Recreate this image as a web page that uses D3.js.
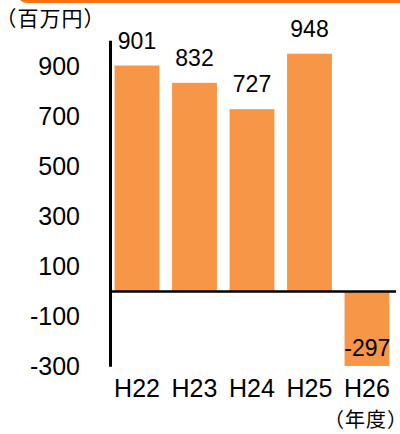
<!DOCTYPE html>
<html>
<head>
<meta charset="utf-8">
<script src="https://cdn.jsdelivr.net/npm/d3@7"></script>
<style>
  body { margin: 0; background: #fff; }
  svg { display: block; }
  text { font-family: "Liberation Sans", Arial, sans-serif; fill: #000; }
  .jp { font-family: "Noto Sans CJK JP", sans-serif; font-feature-settings: "halt"; }
</style>
</head>
<body>
<svg id="chart" width="400" height="434"></svg>
<script>
var years = ["H22", "H23", "H24", "H25", "H26"]
var values = [901, 832, 727, 948, -297]
var yTicks = [900, 700, 500, 300, 100, -100, -300]

var svg = d3.select("#chart")

// orange frame edge at the top
svg.append("path")
    .attr("d", "M20,-20 L20,-6 Q20,1.5 28,1.5 L402,1.5")
    .attr("fill", "none")
    .attr("stroke", "#F7730E")
    .attr("stroke-width", 3)

var x = d3.scaleBand()
    .domain(years)
    .range([110, 394])
    .paddingInner(0.22)
    .paddingOuter(0.08)

var y = d3.scaleLinear()
    .domain([-300, 1000])
    .range([366.7, 40.7])

svg.selectAll(".bar")
    .data(values).enter()
    .append("rect")
        .attr("class", "bar")
        .attr("x", function(d, i){ return x(years[i]) })
        .attr("width", x.bandwidth())
        .attr("y", function(d){ return y(Math.max(d, 0)) })
        .attr("height", function(d){ return Math.abs(y(d) - y(0)) })
        .style("fill", "#F79646")

// y axis line and zero line
svg.append("line")
    .attr("x1", 110.5).attr("x2", 110.5)
    .attr("y1", y(1000)).attr("y2", y(-300))
    .attr("stroke", "#000").attr("stroke-width", 3)

svg.append("line")
    .attr("x1", 109).attr("x2", 396)
    .attr("y1", y(0)).attr("y2", y(0))
    .attr("stroke", "#000").attr("stroke-width", 2.5)

svg.selectAll(".ytick")
    .data(yTicks).enter()
    .append("text")
        .attr("class", "ytick")
        .attr("x", 80)
        .attr("y", function(d){ return y(d) })
        .attr("dy", "0.35em")
        .attr("text-anchor", "end")
        .style("font-size", "25px")
        .text(function(d){ return d })

svg.selectAll(".xlabel")
    .data(years).enter()
    .append("text")
        .attr("class", "xlabel")
        .attr("x", function(d){ return x(d) + x.bandwidth() / 2 })
        .attr("y", 397)
        .attr("text-anchor", "middle")
        .style("font-size", "25px")
        .text(function(d){ return d })

svg.selectAll(".vlabel")
    .data(values).enter()
    .append("text")
        .attr("class", "vlabel")
        .attr("x", function(d, i){ return d < 0 ? x(years[i]) + x.bandwidth() + 1 : x(years[i]) + x.bandwidth() / 2 })
        .attr("y", function(d){ return d < 0 ? y(d) - 10 : y(d) - 17 })
        .attr("text-anchor", function(d){ return d < 0 ? "end" : "middle" })
        .style("font-size", "23px")
        .text(function(d){ return d })

svg.append("text")
    .attr("class", "jp")
    .attr("x", 6)
    .attr("y", 26)
    .style("font-size", "21px")
    .style("letter-spacing", "1px")
    .text("（百万円）")

svg.append("text")
    .attr("class", "jp")
    .attr("x", 398)
    .attr("y", 427)
    .attr("text-anchor", "end")
    .style("font-size", "20px")
    .style("letter-spacing", "1px")
    .text("（年度）")
</script>
</body>
</html>
